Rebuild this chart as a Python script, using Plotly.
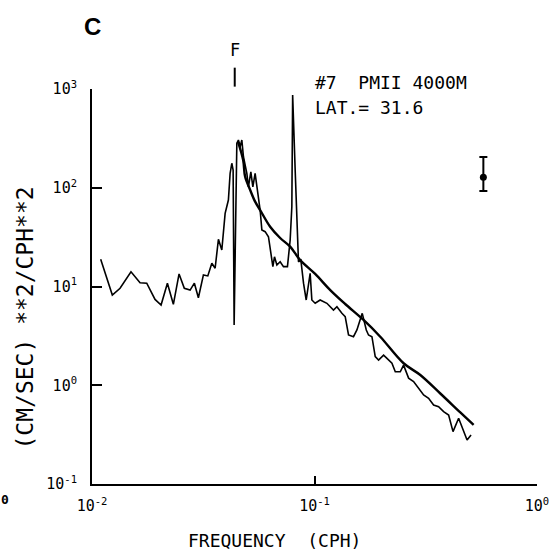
import math
import plotly.graph_objects as go

# Observed spectrum (frequency in CPH, PSD in (cm/s)^2/cph)
freq_spec = [0.01094, 0.01234, 0.01337, 0.01497, 0.01644, 0.01762, 0.0192, 0.02044, 0.02182, 0.02321,
             0.02462, 0.0260, 0.0276, 0.02885, 0.03007, 0.03168, 0.03315, 0.03456, 0.03576, 0.0370,
             0.03832, 0.03966, 0.04102, 0.04176, 0.0425, 0.04308, 0.04353, 0.04477, 0.0455, 0.04632,
             0.04714, 0.04793, 0.04965, 0.05048, 0.05175, 0.05283, 0.05409, 0.05541, 0.05697, 0.0580,
             0.0600, 0.06209, 0.06319, 0.0650, 0.06609, 0.06776, 0.07009, 0.07253, 0.07558, 0.07773,
             0.0791, 0.07976, 0.08187, 0.08332, 0.08472, 0.08685, 0.08926, 0.09177, 0.09397, 0.0956,
             0.0973, 0.1007, 0.1060, 0.1137, 0.1217, 0.1261, 0.1328, 0.1374, 0.1422, 0.1497,
             0.1551, 0.1639, 0.1709, 0.1749, 0.1812, 0.1875, 0.1941, 0.2044, 0.2117, 0.2229,
             0.2307, 0.2429, 0.2514, 0.2648, 0.2788, 0.2937, 0.3093, 0.3257, 0.3430, 0.3612,
             0.3804, 0.4007, 0.4193, 0.4444, 0.4651, 0.4849, 0.5053]
psd_spec = [18.9, 8.2, 9.6, 14.1, 10.9, 10.8, 7.4, 6.5, 10.8, 6.6,
            13.4, 9.6, 9.2, 10.8, 7.7, 13.1, 12.8, 17.2, 15.3, 30.1,
            23.4, 55.1, 75.1, 140, 177, 151, 4.07, 282, 304, 260,
            304, 206, 140, 102, 145, 102, 140, 94.9, 59.5, 37.3,
            35.9, 31.9, 25.3, 15.9, 20.0, 16.5, 17.8, 15.9, 15.9, 29.6,
            64.3, 869, 151, 55.1, 17.8, 18.5, 10.8, 7.3, 9.95, 13.6,
            7.3, 6.76, 7.3, 6.76, 5.78, 6.24, 5.35, 4.95, 3.23, 3.10,
            3.63, 5.35, 3.63, 3.23, 3.10, 1.95, 1.80, 2.02, 1.87, 1.67,
            1.37, 1.37, 1.60, 1.18, 1.09, 0.93, 0.797, 0.738, 0.631, 0.606,
            0.540, 0.50, 0.339, 0.463, 0.352, 0.279, 0.314]

# Model spectrum (smooth curve)
freq_model = [0.04536, 0.04779, 0.04879, 0.05139, 0.05409, 0.05697, 0.06319, 0.07009, 0.07773, 0.08624,
              0.1007, 0.1177, 0.1374, 0.1661, 0.1975, 0.2514, 0.2989, 0.3677, 0.4521, 0.519]
psd_model = [290, 191, 129, 94.9, 72.3, 59.5, 40.3, 31.0, 25.3, 18.5,
             13.4, 9.2, 6.65, 4.58, 3.10, 1.67, 1.27, 0.825, 0.53, 0.396]

# Error bar (confidence interval)
err_freq = [0.574]
err_psd = [128]
err_plus = [205 - 128]
err_minus = [128 - 92.7]

inertial_freq = 0.0438

x_tickvals = [0.01, 0.1, 1]
x_ticktext = ["10<sup>-2</sup>", "10<sup>-1</sup>", "10<sup>0</sup>"]
y_tickvals = [0.1, 1, 10, 100, 1000]
y_ticktext = ["10<sup>-1</sup>", "10<sup>0</sup>", "10<sup>1</sup>", "10<sup>2</sup>", "10<sup>3</sup>"]

mono = "DejaVu Sans Mono"

fig = go.Figure()
fig.add_trace(go.Scatter(x=freq_spec, y=psd_spec, mode="lines",
                         line=dict(color="black", width=1.6), showlegend=False))
fig.add_trace(go.Scatter(x=freq_model, y=psd_model, mode="lines",
                         line=dict(color="black", width=2.4, shape="spline"), showlegend=False))
fig.add_trace(go.Scatter(x=err_freq, y=err_psd, mode="markers",
                         marker=dict(color="black", size=7),
                         error_y=dict(type="data", symmetric=False, array=err_plus, arrayminus=err_minus,
                                      color="black", thickness=2, width=4),
                         showlegend=False))

fig.add_shape(type="line", xref="x", yref="paper", x0=inertial_freq, x1=inertial_freq,
              y0=1.006, y1=1.054, line=dict(color="black", width=2))

ann = [
    dict(text="F", x=math.log10(inertial_freq), xref="x", y=1.099, yref="paper",
         font=dict(size=17, family=mono)),
    dict(text="#7  PMII 4000M", x=0.4966, xref="paper", y=1.0152, yref="paper", xanchor="left",
         font=dict(size=18, family=mono)),
    dict(text="LAT.= 31.6", x=0.4966, xref="paper", y=0.9519, yref="paper", xanchor="left",
         font=dict(size=18, family=mono)),
    dict(text="FREQUENCY  (CPH)", x=0.411, xref="paper", y=-0.144, yref="paper",
         font=dict(size=18, family=mono)),
    dict(text="(CM/SEC) **2/CPH**2", x=-0.1506, xref="paper", y=0.4215, yref="paper", textangle=-90,
         font=dict(size=23, family=mono)),
    dict(text="<b>C</b>", x=0.0, xref="paper", y=1.159, yref="paper",
         font=dict(size=24, family="Liberation Sans")),
    dict(text="<b>0</b>", x=-0.1955, xref="paper", y=-0.038, yref="paper",
         font=dict(size=13, family=mono)),
]
for a in ann:
    a.update(showarrow=False, xanchor=a.get("xanchor", "center"), yanchor="middle")
    a["font"]["color"] = "black"
fig.update_layout(annotations=ann)

fig.update_xaxes(type="log", range=[-2, 0], tickvals=x_tickvals, ticktext=x_ticktext,
                 ticks="inside", ticklen=8, tickwidth=2, tickcolor="black",
                 showline=True, linecolor="black", linewidth=2, mirror=False,
                 showgrid=False, zeroline=False, ticklabelstandoff=7, automargin=False,
                 tickfont=dict(size=15, family=mono, color="black"))
fig.update_yaxes(type="log", range=[-1, 3], tickvals=y_tickvals, ticktext=y_ticktext,
                 ticks="inside", ticklen=10, tickwidth=2, tickcolor="black",
                 showline=True, linecolor="black", linewidth=2, mirror=False,
                 showgrid=False, zeroline=False, ticklabelstandoff=10, automargin=False,
                 tickfont=dict(size=15, family=mono, color="black"))

fig.update_layout(width=552, height=550, margin=dict(l=92, r=15, t=89, b=66, autoexpand=False),
                  plot_bgcolor="white", paper_bgcolor="white", showlegend=False)

fig.write_html("out.html", config={"displayModeBar": False},
               post_script="document.body.style.margin='0';document.body.style.overflow='hidden';")
